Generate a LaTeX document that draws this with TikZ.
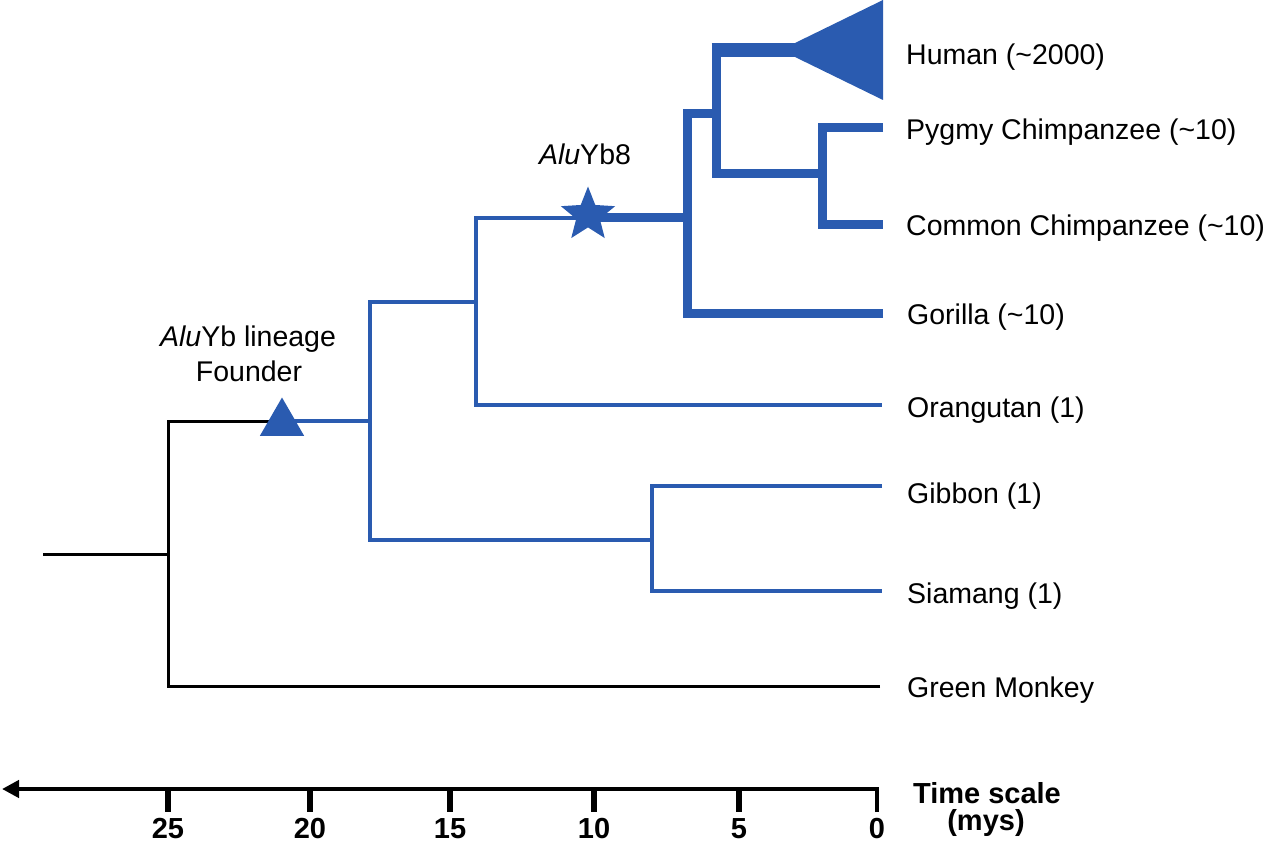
\documentclass[tikz,border=0pt]{standalone}
\usepackage{fontspec}
\setmainfont{Liberation Sans}
\usetikzlibrary{shapes.geometric,arrows.meta}
\definecolor{treeblue}{RGB}{42,91,176}
\newcommand{\tld}{\textasciitilde}
\begin{document}
\begin{tikzpicture}[x=1pt,y=-1pt,line join=miter,
  thinb/.style={draw=treeblue,line width=4pt},
  thickb/.style={draw=treeblue,line width=9pt},
  blk/.style={draw=black,line width=3pt},
  leaf/.style={anchor=base west,inner sep=0pt,font=\fontsize{28.5}{34}\selectfont},
  note/.style={anchor=base,inner sep=0pt,font=\fontsize{28.5}{34}\selectfont},
  axlab/.style={anchor=base,inner sep=0pt,font=\fontsize{29}{34}\selectfont\bfseries},
  tickmark/.style={draw=black,line width=6pt}]
\useasboundingbox (0,0) rectangle (1280,845);

% --- coordinates of the tree ---
\coordinate (root) at (43,554);
\coordinate (n1) at (168,554);
\coordinate (n1t) at (168,421);
\coordinate (n1b) at (168,686);
\coordinate (gm) at (880,686);
\coordinate (n2) at (370,421);
\coordinate (n2t) at (370,302);
\coordinate (n2b) at (370,540);
\coordinate (n3) at (476,302);
\coordinate (n3t) at (476,218);
\coordinate (n3b) at (476,405);
\coordinate (ora) at (882,405);
\coordinate (n4) at (652,540);
\coordinate (gib) at (882,486);
\coordinate (sia) at (882,591);
\coordinate (n5) at (687,218);
\coordinate (gor) at (883,313);
\coordinate (n6) at (716,114);
\coordinate (n6t) at (716,43);
\coordinate (n7) at (822,174);
\coordinate (pyg) at (883,128);
\coordinate (com) at (883,225);
\coordinate (humL) at (711.5,50);
\coordinate (hum) at (795,50);

% --- black part ---
\draw[blk] (root) -- (n1);
\draw[blk] (gm) -| (n1) |- (n1t) -- (282,421);
% --- blue thin part ---
\draw[thinb] (282,421) -- (n2);
\draw[thinb] (n3) -| (n2) |- (n4);
\draw[thinb] (n3) |- (n3t) -- (588,218);
\draw[thinb] (n3) |- (ora);
\draw[thinb] (gib) -| (n4) |- (sia);
% --- blue thick part ---
\draw[thickb] (588,218) -- (n5);
\draw[thickb] (gor) -| (n5) |- (n6);
\draw[thickb] (pyg) -| (n7) |- (com);
\draw[thickb] (n7) -| (n6t);
\draw[treeblue,line width=14pt] (humL) -- (hum);
\fill[treeblue] (795,43) -- (883,0) -- (883,100) -- (795,57) -- cycle;

% --- markers ---
\node[regular polygon,regular polygon sides=3,minimum size=51pt,inner sep=0pt,fill=treeblue] (founder) at (282,423) {};
\node[star,star points=5,star point ratio=2.3,minimum size=57pt,inner sep=0pt,fill=treeblue] (yb8) at (588,215) {};

% --- labels ---
\node[leaf] (lhum) at (906,65) {Human (\tld2000)};
\node[leaf] (lpyg) at (906,140) {Pygmy Chimpanzee (\tld10)};
\node[leaf] (lcom) at (906,236) {Common Chimpanzee (\tld10)};
\node[leaf] (lgor) at (907,324) {Gorilla (\tld10)};
\node[leaf] (lora) at (907,417) {Orangutan (1)};
\node[leaf] (lgib) at (907,503) {Gibbon (1)};
\node[leaf] (lsia) at (907,603) {Siamang (1)};
\node[leaf] (lgm) at (907,697) {Green Monkey};
\node[note] (lyb8) at (585,165) {\textit{Alu}Yb8};
\node[note] (lfd1) at (248,346) {\textit{Alu}Yb lineage};
\node[note] (lfd2) at (249,381) {Founder};

% --- time axis ---
\coordinate (ax0) at (877,812);
\coordinate (axc) at (877,789);
\coordinate (axend) at (2,789);
\draw[black,line width=4.5pt,-{Triangle[length=17pt,width=17pt]}] (ax0) -- (axc) -- (axend);
\foreach \xx/\lab in {168/25,310/20,450/15,594/10,739/5}{
  \coordinate (tk\lab) at (\xx,789);
  \draw[tickmark] (tk\lab) -- ++(0,23);
}
\foreach \xx/\lab in {168/25,310/20,450/15,594/10,739/5,877/0}{
  \node[axlab] (num\lab) at (\xx,838) {\lab};
}
\node[axlab] (ts1) at (987,803) {Time scale};
\node[axlab] (ts2) at (986,830) {(mys)};
\end{tikzpicture}
\end{document}
